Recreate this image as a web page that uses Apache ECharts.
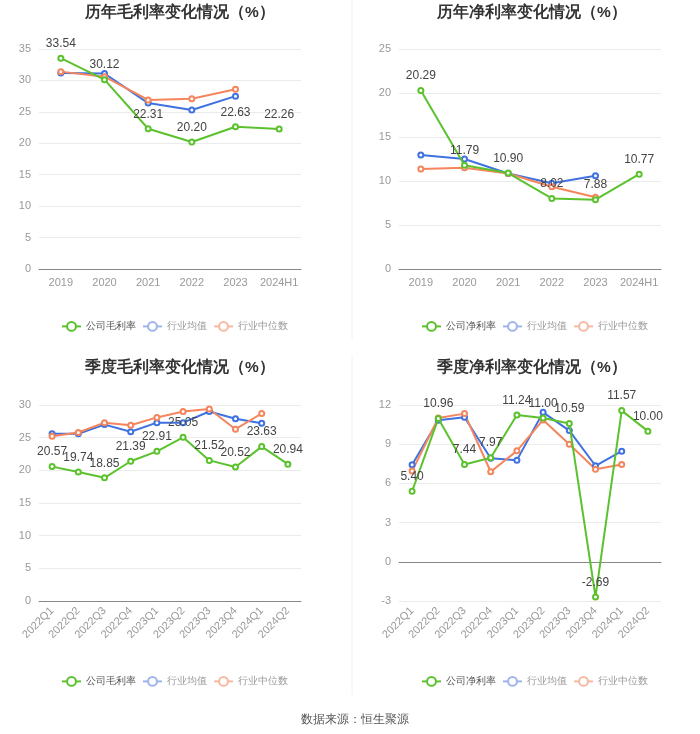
<!DOCTYPE html>
<html><head><meta charset="utf-8">
<script src="https://cdn.jsdelivr.net/npm/echarts@6/dist/echarts.min.js"></script>
<style>html,body{margin:0;padding:0;background:#fff}#c{width:700px;height:734px}</style>
</head><body><div id="c"></div>
<script>
var yearCats = ['2019','2020','2021','2022','2023','2024H1'];
var quarterCats = ['2022Q1','2022Q2','2022Q3','2022Q4','2023Q1','2023Q2','2023Q3','2023Q4','2024Q1','2024Q2'];

var yearGross = [33.54, 30.12, 22.31, 20.20, 22.63, 22.26];
var yearGrossAvg = [31.2, 31.1, 26.4, 25.3, 27.5, null];
var yearGrossMed = [31.4, 30.6, 26.9, 27.1, 28.6, null];

var yearNet = [20.29, 11.79, 10.90, 8.02, 7.88, 10.77];
var yearNetAvg = [12.95, 12.5, 10.85, 9.75, 10.6, null];
var yearNetMed = [11.35, 11.5, 10.85, 9.35, 8.15, null];

var qGross = [20.57, 19.74, 18.85, 21.39, 22.91, 25.05, 21.52, 20.52, 23.63, 20.94];
var qGrossAvg = [25.6, 25.6, 27.0, 25.9, 27.3, 27.3, 29.0, 27.9, 27.2, null];
var qGrossMed = [25.2, 25.8, 27.3, 26.9, 28.1, 29.0, 29.4, 26.3, 28.7, null];

var qNet = [5.40, 10.96, 7.44, 7.97, 11.24, 11.00, 10.59, -2.69, 11.57, 10.00];
var qNetAvg = [7.42, 10.83, 11.06, 7.93, 7.78, 11.44, 10.04, 7.35, 8.47, null];
var qNetMed = [6.94, 11.0, 11.34, 6.89, 8.49, 10.86, 9.0, 7.09, 7.45, null];

var GREEN = '#5bc22e', BLUE = '#3f72e0', ORANGE = '#f5855c';
var chart = echarts.init(document.getElementById('c'));

function xAx(idx, cats, rotate) {
  return {
    type: 'category', gridIndex: idx, data: cats, boundaryGap: true,
    axisLine: {lineStyle: {color: '#888'}},
    axisTick: {alignWithLabel: true, lineStyle: {color: '#888'}},
    axisLabel: {color: '#999', fontSize: 11, rotate: rotate || 0, interval: 0, margin: 8}
  };
}
function yAx(idx, min, max, interval) {
  return {
    type: 'value', gridIndex: idx, min: min, max: max, interval: interval,
    axisLine: {show: false}, axisTick: {show: false},
    axisLabel: {color: '#999', fontSize: 11},
    splitLine: {lineStyle: {color: '#ebebeb'}}
  };
}
function ser(name, idx, data, color, label) {
  return {
    name: name, type: 'line', xAxisIndex: idx, yAxisIndex: idx, data: data,
    symbol: 'emptyCircle', symbolSize: 5, connectNulls: false,
    lineStyle: {color: color, width: 2}, itemStyle: {color: color},
    label: label ? {show: true, position: 'top', color: '#444', fontSize: 12,
      formatter: function (p) { return p.value.toFixed(2); }} : {show: false},
    z: label ? 3 : 2
  };
}
function leg(left, top, firstName) {
  return {
    left: left, top: top, itemWidth: 19, itemHeight: 11, itemGap: 6,
    textStyle: {fontSize: 10, color: '#999'},
    data: [
      {name: firstName, textStyle: {color: '#555'}},
      {name: '行业均值', itemStyle: {color: '#9db5ec'}, lineStyle: {color: '#9db5ec'}},
      {name: '行业中位数', itemStyle: {color: '#f7b9a2'}, lineStyle: {color: '#f7b9a2'}}
    ]
  };
}
var titleStyle = {fontSize: 15.5, fontWeight: 'bold', color: '#333'};

chart.setOption({
  animation: false,
  title: [
    {text: '历年毛利率变化情况（%）', left: 175, top: 0, textAlign: 'center', textStyle: titleStyle},
    {text: '历年净利率变化情况（%）', left: 527, top: 0, textAlign: 'center', textStyle: titleStyle},
    {text: '季度毛利率变化情况（%）', left: 175, top: 355, textAlign: 'center', textStyle: titleStyle},
    {text: '季度净利率变化情况（%）', left: 527, top: 355, textAlign: 'center', textStyle: titleStyle},
    {text: '数据来源：恒生聚源', left: 350, top: 709, textAlign: 'center', textStyle: {fontSize: 12, fontWeight: 'normal', color: '#555'}}
  ],
  legend: [
    leg(56, 316, '公司毛利率'),
    leg(416, 316, '公司净利率'),
    leg(56, 671, '公司毛利率'),
    leg(416, 671, '公司净利率')
  ],
  grid: [
    {left: 39, top: 49, width: 262, height: 220},
    {left: 399, top: 49, width: 262, height: 220},
    {left: 39, top: 405, width: 262, height: 196},
    {left: 399, top: 405, width: 262, height: 196}
  ],
  xAxis: [xAx(0, yearCats), xAx(1, yearCats), xAx(2, quarterCats, 45), xAx(3, quarterCats, 45)],
  yAxis: [yAx(0, 0, 35, 5), yAx(1, 0, 25, 5), yAx(2, 0, 30, 5), yAx(3, -3, 12, 3)],
  series: [
    ser('公司毛利率', 0, yearGross, GREEN, true),
    ser('行业均值', 0, yearGrossAvg, BLUE),
    ser('行业中位数', 0, yearGrossMed, ORANGE),
    ser('公司净利率', 1, yearNet, GREEN, true),
    ser('行业均值', 1, yearNetAvg, BLUE),
    ser('行业中位数', 1, yearNetMed, ORANGE),
    ser('公司毛利率', 2, qGross, GREEN, true),
    ser('行业均值', 2, qGrossAvg, BLUE),
    ser('行业中位数', 2, qGrossMed, ORANGE),
    ser('公司净利率', 3, qNet, GREEN, true),
    ser('行业均值', 3, qNetAvg, BLUE),
    ser('行业中位数', 3, qNetMed, ORANGE)
  ],
  graphic: [
    {type: 'line', shape: {x1: 352, y1: 0, x2: 352, y2: 340}, style: {stroke: '#f2f2f2', lineWidth: 1}},
    {type: 'line', shape: {x1: 352, y1: 355, x2: 352, y2: 695}, style: {stroke: '#f2f2f2', lineWidth: 1}}
  ]
});
</script></body></html>
